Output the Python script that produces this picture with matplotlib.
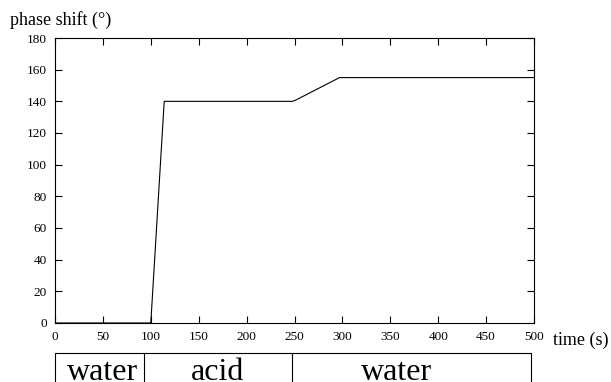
import matplotlib
matplotlib.use("Agg")
import matplotlib.pyplot as plt
from matplotlib.transforms import blended_transform_factory

plt.rcParams['font.family'] = ['Liberation Serif', 'DejaVu Serif']

# phase shift trace
time_s = [0, 100, 114, 248, 252, 297, 500]
phase_deg = [0, 0, 140, 140, 141, 155, 155]

# solution phases shown under the axis
phase_edges = [0, 93, 247, 497]
phase_names = ['water', 'acid', 'water']
phase_label_x = [50, 170, 357]

fig = plt.figure(figsize=(6.11, 3.82), dpi=100)
ax = fig.add_axes([0.090, 0.1545, 0.784, 0.746])

ax.plot(time_s, phase_deg, color='black', linewidth=0.8)
ax.set_xlim(0, 500)
ax.set_ylim(0, 180)
ax.set_xticks(range(0, 501, 50))
ax.set_yticks(range(0, 181, 20))
ax.tick_params(direction='in', length=5, width=0.8, labelsize=9.5,
               top=True, right=True, pad=6)
for s in ax.spines.values():
    s.set_linewidth(0.8)

fig.text(0.016, 0.935, 'phase shift (°)', fontsize=13, ha='left', va='baseline')
fig.text(0.905, 0.097, 'time (s)', fontsize=13, ha='left', va='baseline')

# box with the phase names below the time axis
tr = blended_transform_factory(ax.transData, fig.transFigure)
box_top = 0.076
ax.plot([phase_edges[0], phase_edges[0], phase_edges[-1], phase_edges[-1]],
        [-0.01, box_top, box_top, -0.01], transform=tr, color='black',
        linewidth=0.8, clip_on=False)
for e in phase_edges[1:-1]:
    ax.plot([e, e], [-0.01, box_top], transform=tr, color='black',
            linewidth=0.8, clip_on=False)
for x, name in zip(phase_label_x, phase_names):
    ax.text(x, 0.004, name, transform=tr, fontsize=23, ha='center',
            va='baseline')

fig.savefig('out.png', dpi=100)
